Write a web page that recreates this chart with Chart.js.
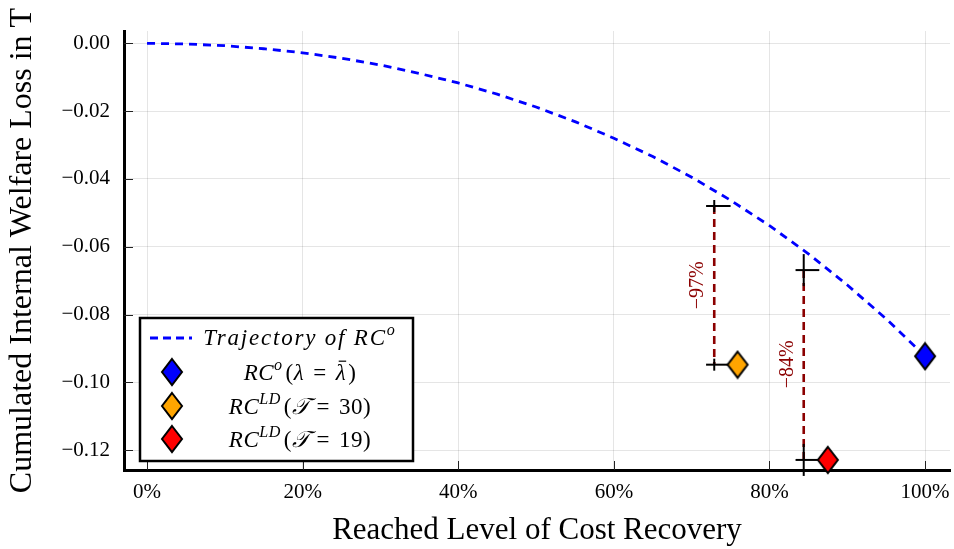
<!DOCTYPE html>
<html>
<head>
<meta charset="utf-8">
<script src="https://cdn.jsdelivr.net/npm/chart.js@4.4.1/dist/chart.umd.min.js"></script>
<style>
  html, body { margin: 0; padding: 0; background: #fff; overflow: hidden; }
  #wrap { width: 954px; height: 549px; position: relative; }
  #chart { display: block; }
</style>
</head>
<body>
<div id="wrap"><canvas id="chart"></canvas></div>
<script>
// --- DATA ---
const recoveryLevels = [0, 0.05, 0.10, 0.15, 0.20, 0.25, 0.30, 0.35, 0.40, 0.45, 0.50,
                        0.55, 0.60, 0.65, 0.70, 0.75, 0.80, 0.85, 0.90, 0.95, 1.00];
const welfareLoss = [0, -0.0002, -0.0007, -0.0016, -0.0028, -0.0044, -0.0064, -0.0089, -0.0117, -0.0150, -0.0188,
                     -0.0231, -0.0280, -0.0334, -0.0395, -0.0463, -0.0538, -0.0621, -0.0713, -0.0813, -0.0923];

const markerX = [1.00, 0.759, 0.875];
const markerY = [-0.0923, -0.0948, -0.1229];

const dropX = [0.729, 0.844];
const dropTop = [-0.0480, -0.0669];
const dropBottom = [-0.0948, -0.1229];
const dropArmEnd = [0.750, 0.864];
const dropLabels = ['\u221297%', '\u221284%'];
const dropLabelY = [-0.0714, -0.0947];

const xTicks = [0, 0.2, 0.4, 0.6, 0.8, 1.0];
const xTickLabels = ['0%', '20%', '40%', '60%', '80%', '100%'];
const yTicks = [0, -0.02, -0.04, -0.06, -0.08, -0.10, -0.12];
const yTickLabels = ['0.00', '\u22120.02', '\u22120.04', '\u22120.06', '\u22120.08', '\u22120.10', '\u22120.12'];

// --- STYLE ---
const SERIF = "'Liberation Serif', 'DejaVu Serif', serif";
const BLUE = '#0000ff';
const DARKRED = '#8b0000';
const markerFill = [BLUE, '#ffa500', '#ff0000'];
const stemRadius = [6, 16];

function diamond(fill) {
    const c = document.createElement('canvas');
    c.width = 24; c.height = 30;
    const g = c.getContext('2d');
    g.beginPath();
    g.moveTo(12, 2); g.lineTo(22, 15); g.lineTo(12, 28); g.lineTo(2, 15);
    g.closePath();
    g.fillStyle = fill; g.fill();
    g.lineWidth = 2; g.lineJoin = 'miter'; g.strokeStyle = '#000'; g.stroke();
    return c;
}
const diamonds = markerFill.map(diamond);

// rich text: parts = [[text, kind]], kind r=roman, i=italic, s=superscript italic,
// b=italic with bar, g=blank gap of <text> px
function drawRich(ctx, parts, cx, cy, size, spacing) {
    const fontFor = k => (k === 'r' ? '' : 'italic ') + (k === 's' ? size * 0.7 : size) + 'px ' + SERIF;
    ctx.save();
    ctx.letterSpacing = (spacing || 0) + 'px';
    let total = 0;
    const widths = parts.map(([t, k]) => {
        if (k === 'g') { total += t; return t; }
        ctx.font = fontFor(k);
        const w = ctx.measureText(t).width;
        total += w;
        return w;
    });
    let x = cx - total / 2;
    const base = cy + size * 0.33;
    ctx.fillStyle = '#000';
    ctx.textBaseline = 'alphabetic';
    ctx.textAlign = 'left';
    parts.forEach(([t, k], i) => {
        if (k !== 'g') {
            ctx.font = fontFor(k);
            ctx.fillText(t, x, k === 's' ? base - size * 0.42 : base);
        }
        if (k === 'b') {
            ctx.beginPath();
            ctx.lineWidth = 1.2;
            ctx.strokeStyle = '#000';
            ctx.moveTo(x + 3, base - size * 0.8);
            ctx.lineTo(x + widths[i], base - size * 0.8);
            ctx.stroke();
        }
        x += widths[i];
    });
    ctx.restore();
}

const legendPlugin = {
    id: 'mathLegend',
    afterDatasetsDraw(chart) {
        const ctx = chart.ctx;
        ctx.save();
        ctx.fillStyle = '#fff';
        ctx.fillRect(140, 318, 273, 143);
        ctx.lineWidth = 2.5;
        ctx.strokeStyle = '#000';
        ctx.strokeRect(140, 318, 273, 143);

        ctx.beginPath();
        ctx.setLineDash([8, 5]);
        ctx.lineWidth = 2.8;
        ctx.strokeStyle = BLUE;
        ctx.moveTo(150, 338); ctx.lineTo(192, 338);
        ctx.stroke();
        ctx.setLineDash([]);

        const rowsY = [372, 406, 439];
        rowsY.forEach((y, i) => ctx.drawImage(diamonds[i], 172 - 12, y - 15));

        const S = 23;
        drawRich(ctx, [['Trajectory of RC', 'i'], ['o', 's']], 300, 337, S, 1.8);
        drawRich(ctx, [['RC', 'i'], ['o', 's'], [3, 'g'], ['(', 'r'], ['\u03bb', 'i'], [9, 'g'], ['=', 'r'], [9, 'g'], ['\u03bb', 'b'], [2, 'g'], [')', 'r']], 300, rowsY[0], S, 0.5);
        drawRich(ctx, [['RC', 'i'], ['LD', 's'], [3, 'g'], ['(', 'r'], ['\ud835\udcaf', 'i'], [6, 'g'], ['=', 'r'], [9, 'g'], ['30)', 'r']], 300, rowsY[1], S, 0.5);
        drawRich(ctx, [['RC', 'i'], ['LD', 's'], [3, 'g'], ['(', 'r'], ['\ud835\udcaf', 'i'], [6, 'g'], ['=', 'r'], [9, 'g'], ['19)', 'r']], 300, rowsY[2], S, 0.5);
        ctx.restore();
    }
};

const axisDecorPlugin = {
    id: 'axisDecor',
    beforeDatasetsDraw(chart) {
        const {ctx, chartArea, scales} = chart;
        ctx.save();
        // inward tick marks
        ctx.strokeStyle = '#222';
        ctx.lineWidth = 1;
        ctx.beginPath();
        xTicks.forEach(v => {
            const px = Math.round(scales.x.getPixelForValue(v)) + 0.5;
            ctx.moveTo(px, chartArea.bottom); ctx.lineTo(px, chartArea.bottom - 9);
        });
        yTicks.forEach(v => {
            const py = Math.round(scales.y.getPixelForValue(v)) + 0.5;
            ctx.moveTo(chartArea.left, py); ctx.lineTo(chartArea.left + 9, py);
        });
        ctx.stroke();
        // x tick labels (drawn here so the last one may hang past the plot edge)
        ctx.fillStyle = '#000';
        ctx.font = '21px ' + SERIF;
        ctx.textAlign = 'center';
        ctx.textBaseline = 'middle';
        xTicks.forEach((v, i) => {
            ctx.fillText(xTickLabels[i], scales.x.getPixelForValue(v), chartArea.bottom + 22);
        });
        ctx.restore();
    },
    afterDatasetsDraw(chart) {
        const {ctx, scales} = chart;
        ctx.save();
        ctx.fillStyle = DARKRED;
        ctx.font = '20px ' + SERIF;
        ctx.textAlign = 'center';
        ctx.textBaseline = 'middle';
        dropLabels.forEach((t, i) => {
            ctx.save();
            ctx.translate(scales.x.getPixelForValue(dropX[i]) - 16, scales.y.getPixelForValue(dropLabelY[i]));
            ctx.rotate(-Math.PI / 2);
            ctx.fillText(t, 0, 0);
            ctx.restore();
        });
        ctx.restore();
    }
};

const datasets = [];
datasets.push({
    data: markerX.map((x, i) => ({x, y: markerY[i]})),
    pointStyle: diamonds,
    pointRadius: 12,
    clip: false,
    order: 0
});
datasets.push({
    data: [0, 1, 2, 3].map(k => ({x: dropX[k >> 1], y: (k & 1 ? dropBottom : dropTop)[k >> 1]})),
    pointStyle: 'line',
    rotation: 90,
    pointRadius: [0, 1, 2, 3].map(k => stemRadius[k >> 1]),
    borderColor: '#000',
    borderWidth: 2,
    clip: false,
    order: 1
});
dropX.forEach((x, i) => {
    [dropTop[i], dropBottom[i]].forEach(y => {
        datasets.push({
            data: [{x: x - 0.0105, y}, {x: dropArmEnd[i], y}],
            showLine: true,
            borderColor: '#000',
            borderWidth: 2,
            pointRadius: 0,
            order: 2
        });
    });
    datasets.push({
        data: [{x, y: dropTop[i]}, {x, y: dropBottom[i]}],
        showLine: true,
        borderColor: DARKRED,
        borderWidth: 2.6,
        borderDash: [8, 5],
        pointRadius: 0,
        order: 4
    });
});
datasets.push({
    data: recoveryLevels.map((x, i) => ({x, y: welfareLoss[i]})),
    showLine: true,
    borderColor: BLUE,
    borderWidth: 2.8,
    borderDash: [8, 6],
    pointRadius: 0,
    order: 3
});

new Chart(document.getElementById('chart'), {
    type: 'scatter',
    data: { datasets },
    options: {
        responsive: true,
        maintainAspectRatio: false,
        animation: false,
        devicePixelRatio: 1,
        // big diamond markers would otherwise add ~14px auto padding round the plot
        layout: { autoPadding: false, padding: { top: 31, right: 4, left: 0, bottom: 0 } },
        plugins: { legend: { display: false }, tooltip: { enabled: false } },
        scales: {
            x: {
                type: 'linear',
                min: -0.0296,
                max: 1.032,
                afterBuildTicks: sc => { sc.ticks = xTicks.map(v => ({value: v})); },
                afterFit: sc => { sc.height = 79; },
                ticks: { display: false },
                grid: { color: 'rgba(0,0,0,0.1)', drawTicks: false },
                border: { color: '#000', width: 3 },
                title: {
                    display: true,
                    text: 'Reached Level of Cost Recovery',
                    font: { family: SERIF, size: 31 },
                    color: '#000',
                    padding: { top: 0, bottom: 0 }
                }
            },
            y: {
                type: 'linear',
                min: -0.12587,
                max: 0.00363,
                afterBuildTicks: sc => { sc.ticks = yTicks.map(v => ({value: v})); },
                afterFit: sc => { sc.width = 124; },
                ticks: {
                    callback: (v, i) => yTickLabels[i],
                    font: { family: SERIF, size: 21 },
                    color: '#000',
                    padding: 14,
                    autoSkip: false
                },
                grid: { color: 'rgba(0,0,0,0.1)', drawTicks: false },
                border: { color: '#000', width: 3 },
                title: {
                    display: true,
                    text: 'Cumulated Internal Welfare Loss in T',
                    font: { family: SERIF, size: 32 },
                    color: '#000',
                    padding: { top: 3, bottom: 0 }
                }
            }
        }
    },
    plugins: [axisDecorPlugin, legendPlugin]
});
</script>
</body>
</html>
